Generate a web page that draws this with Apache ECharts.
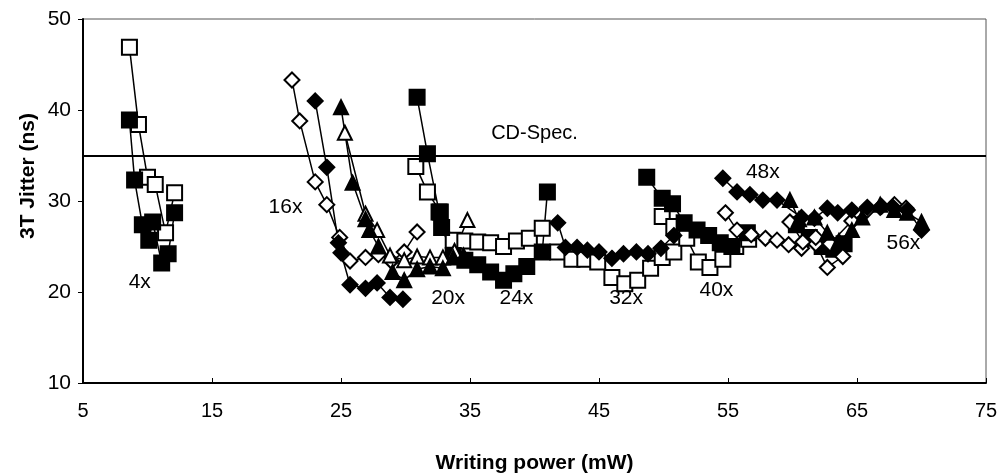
<!DOCTYPE html>
<html><head><meta charset="utf-8">
<script src="https://cdn.jsdelivr.net/npm/echarts@6/dist/echarts.min.js"></script>
<style>html,body{margin:0;padding:0;background:#fff}#c{width:997px;height:475px}</style>
</head><body><div id="c"></div>
<script>
// ---- axis ticks ----
const xTicks = [5, 15, 25, 35, 45, 55, 65, 75];
const yTicks = [10, 20, 30, 40, 50];
const specLevel = 35;

// ---- open squares ----
const openSq4x  = [[8.6,46.9],[9.3,38.4],[10.0,32.6],[10.6,31.8],[11.4,26.5],[12.1,30.9]];
const openSq24x = [[30.8,33.8],[31.7,31.0],[32.7,28.8],[33.7,25.7],[34.6,25.6],[35.6,25.5],[36.6,25.4],[37.6,25.0],[38.6,25.6],[39.6,25.9],[40.6,27.0]];
const openSq32x = [[41.8,24.4],[42.9,23.6],[43.9,23.6],[44.9,23.3],[46.0,21.6],[47.0,20.9],[48.0,21.3],[49.0,22.6],[49.9,23.8],[50.8,24.4]];
const openSq40x = [[49.9,28.3],[50.8,27.2],[51.8,25.9],[52.7,23.3],[53.6,22.7],[54.6,23.6],[55.6,25.0],[56.6,25.8]];

// ---- filled squares ----
const fillSq4x  = [[8.6,38.9],[9.0,32.3],[9.6,27.4],[10.1,25.7],[10.4,27.7],[11.1,23.2],[11.6,24.2],[12.1,28.7]];
const fillSq24x = [[30.9,41.4],[31.7,35.2],[32.6,28.8],[32.8,27.1],[33.7,24.0],[34.6,23.5],[35.6,23.0],[36.6,22.2],[37.6,21.3],[38.4,22.0],[39.4,22.8],[40.6,24.4],[41.0,31.0]];
const fillSq40x = [[48.7,32.6],[49.9,30.3],[50.7,29.7],[51.6,27.6],[52.6,26.8],[53.5,26.2],[54.4,25.4],[55.3,25.0],[56.5,26.5]];
const fillSq48x = [[60.3,27.4],[61.3,26.0],[62.3,25.0],[63.2,24.7],[64.0,25.3]];

// ---- open diamonds ----
const openDi16x = [[21.2,43.3],[21.8,38.8],[23.0,32.1],[23.9,29.6],[24.9,26.0],[25.7,23.4],[26.9,23.8],[27.9,24.1],[28.9,23.4],[29.9,24.4],[30.9,26.6]];
const openDi48x = [[54.8,28.7],[55.7,26.8],[56.8,26.3],[57.9,25.9],[58.8,25.7],[59.7,25.2],[60.7,24.8],[61.8,25.3],[62.7,22.7],[63.9,23.9]];
const openDi56x = [[59.8,27.7],[60.8,25.5],[61.8,26.0],[62.9,25.3],[64.6,27.8],[65.8,29.0],[66.9,29.4],[67.9,29.6],[68.8,29.2]];

// ---- filled diamonds ----
const fillDi16x = [[23.0,41.0],[23.9,33.7],[24.8,25.4],[25.0,24.3],[25.7,20.8],[26.9,20.4],[27.8,21.0],[28.8,19.4],[29.8,19.2]];
const fillDi32x = [[41.8,27.6],[42.4,24.9],[43.3,24.9],[44.1,24.6],[45.0,24.4],[46.0,23.7],[46.9,24.2],[47.9,24.4],[48.8,24.2],[49.8,24.8],[50.8,26.2]];
const fillDi48x = [[54.6,32.5],[55.7,31.0],[56.7,30.7],[57.7,30.1],[58.8,30.1],[60.7,28.2],[61.7,28.1],[62.7,29.2],[63.5,28.7],[64.6,29.0],[65.8,29.3],[66.8,29.3],[67.8,29.3],[68.9,29.0],[70.0,26.8]];

// ---- open triangles ----
const openTr20x = [[25.3,37.5],[26.9,28.6],[27.8,26.8],[28.8,24.0],[29.9,23.5],[30.9,23.9],[31.9,23.8],[32.9,23.8],[33.8,24.5],[34.8,27.9]];

// ---- filled triangles ----
const fillTr20x = [[25.0,40.3],[25.9,32.0],[26.9,28.0],[27.2,26.8],[27.9,25.0],[29.0,22.2],[29.9,21.3],[30.9,22.5],[31.9,22.8],[32.9,22.6],[33.7,23.8],[34.5,24.0]];
const fillTr56x = [[59.8,30.1],[60.5,28.0],[61.7,28.2],[62.7,26.5],[63.6,25.6],[64.6,26.8],[65.4,28.2],[66.8,29.6],[67.9,29.0],[68.9,28.7],[70.0,27.7]];

// ---- speed labels ----
const speedLabels = [[9.4,21.1,'4x'],[20.7,29.3,'16x'],[33.3,19.3,'20x'],[38.6,19.3,'24x'],[47.1,19.3,'32x'],[54.1,20.2,'40x'],[57.7,33.2,'48x'],[68.6,25.4,'56x']];

const FONT = '"Liberation Sans", Arial, sans-serif';
const styles = {
  openSq:  {symbol:'rect', size:15, fill:'#fff'},
  fillSq:  {symbol:'rect', size:15, fill:'#000'},
  openDi:  {symbol:'diamond', size:15, fill:'#fff'},
  fillDi:  {symbol:'diamond', size:15, fill:'#000'},
  openTr:  {symbol:'triangle', size:14, fill:'#fff'},
  fillTr:  {symbol:'triangle', size:14, fill:'#000'}
};
const groups = [
  ['openSq', openSq4x],['openSq', openSq24x],['openSq', openSq32x],['openSq', openSq40x],
  ['fillSq', fillSq4x],['fillSq', fillSq24x],['fillSq', fillSq40x],['fillSq', fillSq48x],
  ['openDi', openDi16x],['openDi', openDi48x],['openDi', openDi56x],
  ['fillDi', fillDi16x],['fillDi', fillDi32x],['fillDi', fillDi48x],
  ['openTr', openTr20x],
  ['fillTr', fillTr20x],['fillTr', fillTr56x]
];
const series = groups.map(([k, d]) => {
  const s = styles[k];
  return {
    type:'line', data:d, symbol:s.symbol, symbolSize:s.size, showAllSymbol:true,
    lineStyle:{color:'#000', width:1.5},
    itemStyle:{color:s.fill, borderColor:'#000', borderWidth:2},
    emphasis:{disabled:true}, animation:false, z:3
  };
});
series.push({
  type:'line', data:[], animation:false,
  markLine:{
    silent:true, symbol:'none',
    lineStyle:{color:'#000', width:2, type:'solid'},
    label:{formatter:'CD-Spec.', position:'insideMiddleTop', color:'#000', fontSize:20, fontFamily:FONT, distance:12},
    data:[{yAxis:specLevel}]
  }
});
series.push({
  type:'scatter', symbolSize:1, animation:false, z:5,
  itemStyle:{opacity:0},
  data: speedLabels.map(([x,y,t]) => ({value:[x,y], name:t})),
  label:{show:true, position:'inside', formatter:p=>p.name, color:'#000', opacity:1, fontSize:21, fontFamily:FONT},
  emphasis:{disabled:true}
});

const chart = echarts.init(document.getElementById('c'));
chart.setOption({
  backgroundColor:'#fff',
  animation:false,
  grid:{left:83, right:11, top:19, bottom:92, show:true, borderColor:'#555', borderWidth:1, outerBoundsMode:'none', containLabel:false},
  graphic:[{
    type:'text', x:28, y:176, rotation:Math.PI/2,
    style:{text:'3T Jitter (ns)', fontFamily:FONT, fontSize:21, fontWeight:'bold', fill:'#000', align:'center', verticalAlign:'middle'}
  }],
  xAxis:{
    type:'value', min:xTicks[0], max:xTicks[xTicks.length-1], interval:10,
    name:'Writing power (mW)', nameLocation:'middle', nameGap:70,
    nameTextStyle:{fontFamily:FONT, fontSize:21, fontWeight:'bold', color:'#000'},
    axisLine:{show:true, lineStyle:{color:'#000', width:2}},
    axisTick:{show:true, inside:true, length:5, lineStyle:{color:'#000'}},
    axisLabel:{fontFamily:FONT, fontSize:20, color:'#000', margin:18},
    splitLine:{show:false}
  },
  yAxis:{
    type:'value', min:yTicks[0], max:yTicks[yTicks.length-1], interval:10,
    axisLine:{show:true, lineStyle:{color:'#000', width:2}},
    axisTick:{show:true, inside:false, length:5, lineStyle:{color:'#000'}},
    axisLabel:{fontFamily:FONT, fontSize:21, color:'#000', margin:12},
    splitLine:{show:false}
  },
  series: series
});
</script></body></html>
